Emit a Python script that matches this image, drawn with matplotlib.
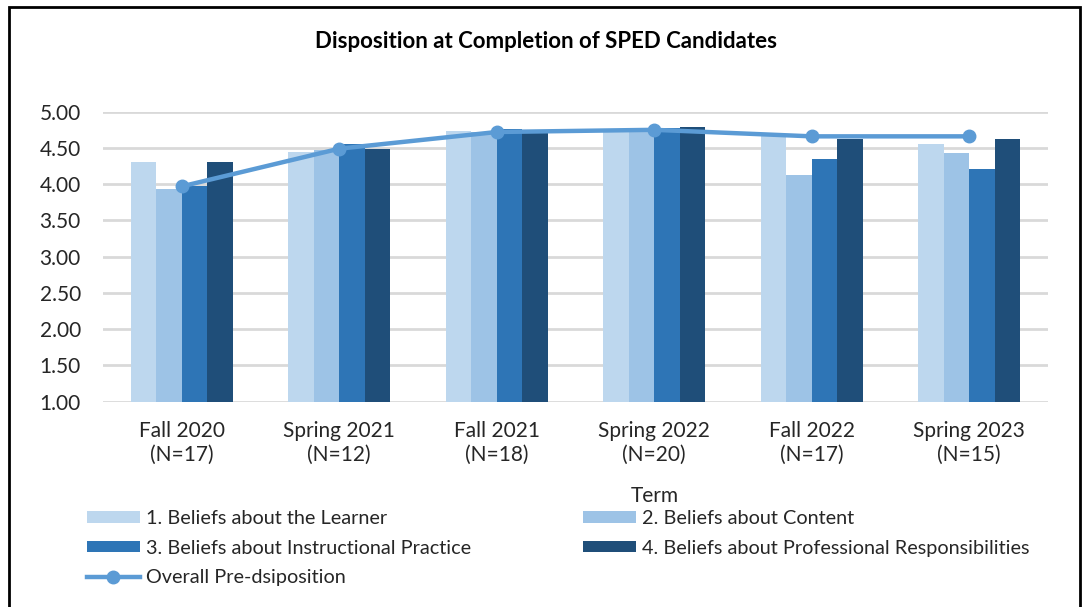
import numpy as np
import matplotlib
matplotlib.use("Agg")
import matplotlib.pyplot as plt
from matplotlib.patches import Rectangle

# data
terms = ["Fall 2020\n(N=17)", "Spring 2021\n(N=12)", "Fall 2021\n(N=18)",
         "Spring 2022\n(N=20)", "Fall 2022\n(N=17)", "Spring 2023\n(N=15)"]
learner = [4.30, 4.44, 4.74, 4.72, 4.66, 4.55]
content = [3.94, 4.47, 4.72, 4.72, 4.13, 4.43]
instruct = [3.97, 4.56, 4.76, 4.77, 4.35, 4.21]
profess = [4.30, 4.49, 4.70, 4.79, 4.62, 4.62]
overall = [3.97, 4.49, 4.72, 4.75, 4.66, 4.66]

names = ["1. Beliefs about the Learner", "2. Beliefs about Content",
         "3. Beliefs about Instructional Practice",
         "4. Beliefs about Professional Responsibilities"]
colors = ["#BDD7EE", "#9DC3E6", "#2E75B6", "#1F4E79"]
yticks = [1.0, 1.5, 2.0, 2.5, 3.0, 3.5, 4.0, 4.5, 5.0]

plt.rcParams['font.family'] = ['Lato', 'DejaVu Sans']
txt = "#262626"

fig = plt.figure(figsize=(10.86, 6.07), dpi=100)
ax = fig.add_axes([103/1086, 1 - 401.7/607, (1048-103)/1086, (401.7-111.7)/607])

x = np.arange(len(terms))
w = 0.162
handles = []
for i, (vals, c) in enumerate(zip([learner, content, instruct, profess], colors)):
    b = ax.bar(x + (i - 1.5) * w, np.array(vals) - 1.0, w, bottom=1.0, color=c,
               label=names[i], zorder=2)
    handles.append(b)
ln, = ax.plot(x, overall, color="#5B9BD5", lw=3.2, marker="o", ms=9,
              label="Overall Pre-dsiposition", zorder=3)

ax.set_xlim(-0.5, len(terms) - 0.5)
ax.set_ylim(1, 5)
ax.set_yticks(yticks)
ax.set_yticklabels([f"{v:.2f}" for v in yticks], fontsize=15, color=txt)
ax.set_xticks(x)
ax.set_xticklabels(terms, fontsize=15, color=txt, linespacing=1.25)
ax.tick_params(length=0)
ax.tick_params(axis="y", pad=16)
ax.tick_params(axis="x", pad=14)
ax.yaxis.grid(True, color="#D9D9D9", lw=2, zorder=0)
for s in ax.spines.values():
    s.set_visible(False)

fig.text(546/1086, 1 - 42/607, "Disposition at Completion of SPED Candidates",
         ha="center", va="center", fontsize=16, fontweight="bold", color="black")
fig.text(655/1086, 1 - 496/607, "Term", ha="center", va="center", fontsize=15,
         color=txt)

legkw = dict(loc="upper left", frameon=False, fontsize=14.3, handlelength=2.66,
             handleheight=0.5, handletextpad=0.3, labelspacing=0.63,
             borderaxespad=0, borderpad=0)
col1 = [handles[0], handles[2], ln]
col2 = [handles[1], handles[3]]
leg1 = fig.legend(col1, [h.get_label() for h in col1],
                  bbox_to_anchor=(87/1086, 1 - 510/607), **legkw)
leg2 = fig.legend(col2, [h.get_label() for h in col2],
                  bbox_to_anchor=(583/1086, 1 - 510/607), **legkw)
for lg in (leg1, leg2):
    for t in lg.get_texts():
        t.set_color(txt)

fig.patches.append(Rectangle((9/1086, -0.02), (1080-9)/1086, 1 - 7/607 + 0.02,
                             transform=fig.transFigure, fill=False,
                             edgecolor="black", lw=2))

fig.savefig("out.png", dpi=100)
